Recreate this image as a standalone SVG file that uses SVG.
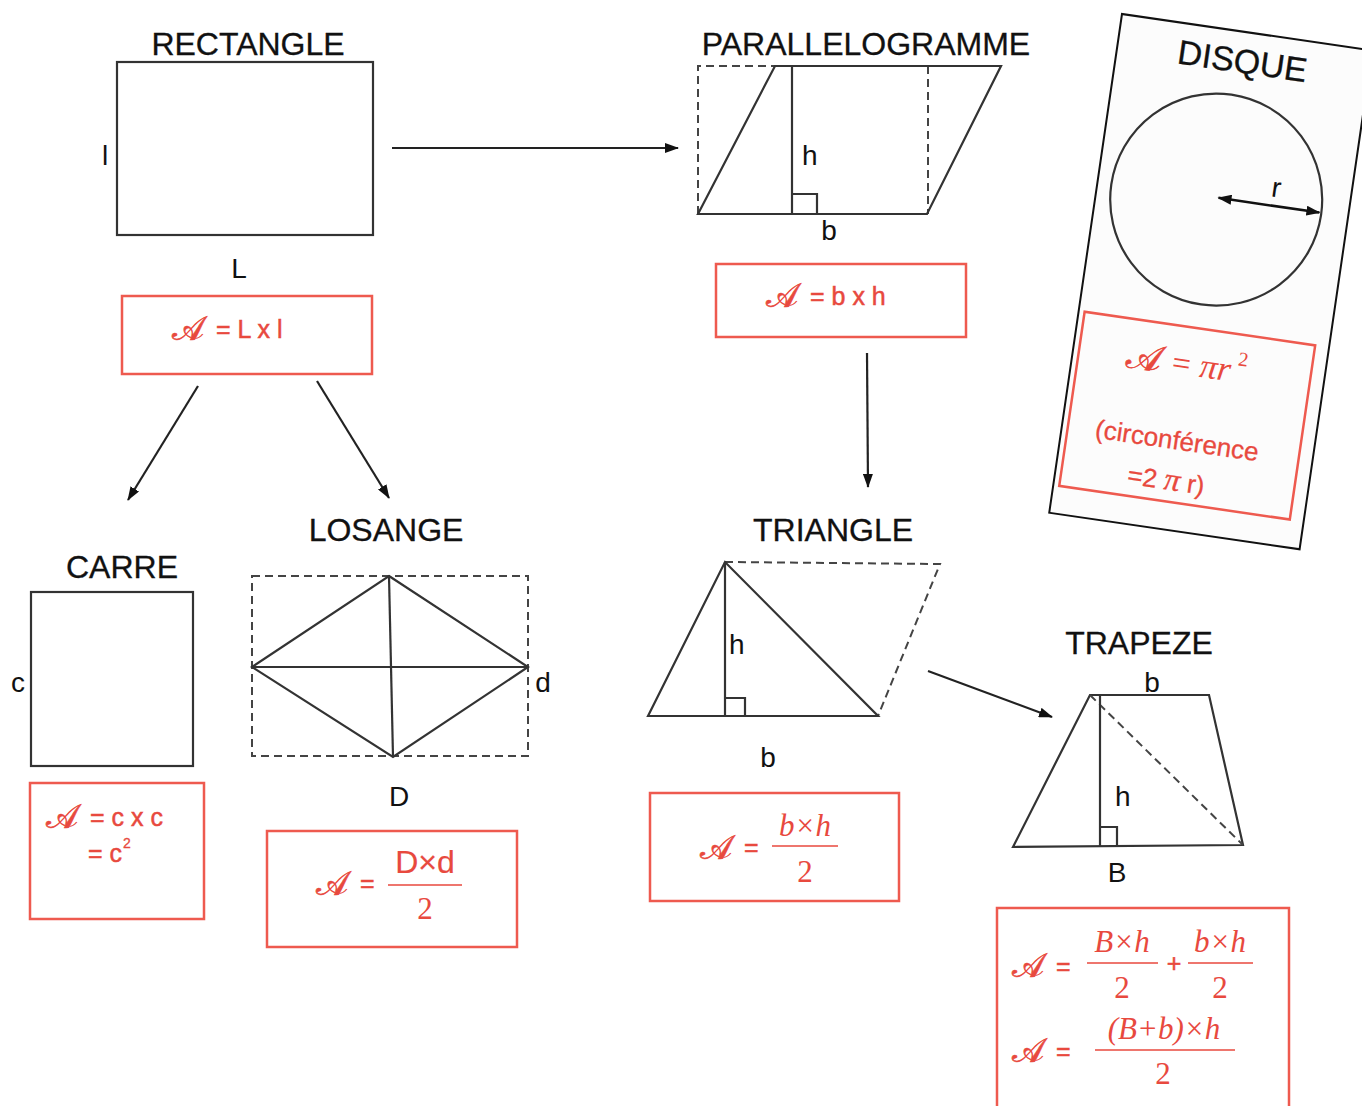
<svg xmlns="http://www.w3.org/2000/svg" width="1362" height="1106" viewBox="0 0 1362 1106">
<style>
.s{font-family:"Liberation Sans",Arial,sans-serif;fill:#111}
.title{font-size:32px;stroke:#111;stroke-width:0.3}
.lbl{font-size:28px}
.f{font-size:25px;font-family:"Liberation Sans",Arial,sans-serif;fill:#e8493e;stroke:#e8493e;stroke-width:0.5}
.m{font-family:"Liberation Serif","Times New Roman",serif;fill:#e8493e;font-size:31px}
.mi{font-style:italic}
.A{font-family:"DejaVu Serif","DejaVu Sans",serif;fill:#e8493e;font-size:34px;stroke:#e8493e;stroke-width:0.6}
.box{fill:none;stroke:#ee5a4f;stroke-width:2.5}
.sh{fill:none;stroke:#333;stroke-width:2.2}
.da{fill:none;stroke:#444;stroke-width:2;stroke-dasharray:8 5}
.fr{stroke:#e8493e;stroke-width:1.6}
.conn line{stroke:#222;stroke-width:2.2;marker-end:url(#ah)}
</style>
<defs>
<marker id="ah" viewBox="0 0 14 10" refX="13" refY="5" markerWidth="14" markerHeight="10" markerUnits="userSpaceOnUse" orient="auto">
<path d="M0,0 L14,5 L0,10 Z" fill="#111"/>
</marker>
<marker id="ahs" viewBox="0 0 14 10" refX="13" refY="5" markerWidth="14" markerHeight="10" markerUnits="userSpaceOnUse" orient="auto-start-reverse">
<path d="M0,0 L14,5 L0,10 Z" fill="#111"/>
</marker>
</defs>
<rect width="1362" height="1106" fill="#fff"/>

<g id="rectangle">
<text class="s title" x="248" y="55" text-anchor="middle">RECTANGLE</text>
<rect class="sh" x="117" y="62" width="256" height="173"/>
<text class="s lbl" x="105" y="165" text-anchor="middle">l</text>
<text class="s lbl" x="239" y="278" text-anchor="middle">L</text>
<rect class="box" x="122" y="296" width="250" height="78"/>
<text class="A" x="172" y="340">𝒜</text>
<text class="f" x="216" y="338">= L x l</text>
</g>

<g id="parallelogramme">
<text class="s title" x="866" y="55" text-anchor="middle">PARALLELOGRAMME</text>
<path class="da" d="M698,214 L698,66 L775,66 M928,66 L928,214"/>
<polygon class="sh" points="698,214 775,66 1001,66 927,214"/>
<line class="sh" x1="792" y1="66" x2="792" y2="214"/>
<path class="sh" d="M792,194 L817,194 L817,214"/>
<text class="s lbl" x="802" y="165">h</text>
<text class="s lbl" x="829" y="240" text-anchor="middle">b</text>
<rect class="box" x="716" y="264" width="250" height="73"/>
<text class="A" x="766" y="307">𝒜</text>
<text class="f" x="810" y="305">= b x h</text>
</g>

<g id="disque" transform="rotate(8.3 1122 14)">
<rect x="1122" y="14" width="253" height="504" fill="#fcfcfc" stroke="#111" stroke-width="2"/>
<text class="s" x="1248" y="55" text-anchor="middle" style="font-size:34px" stroke="#111" stroke-width="0.3">DISQUE</text>
<circle class="sh" cx="1242" cy="184" r="106"/>
<line x1="1244" y1="182" x2="1346" y2="182" stroke="#111" stroke-width="2.5" marker-start="url(#ahs)" marker-end="url(#ah)"/>
<text class="s lbl" x="1300" y="173" text-anchor="middle">r</text>
<rect class="box" x="1128" y="314" width="233" height="176"/>
<text class="A" x="1176" y="363" style="font-size:37px">𝒜</text>
<text class="m" x="1222" y="362" style="font-size:33px">=</text>
<text class="m mi" x="1250" y="362" style="font-size:35px">πr</text>
<text class="m" x="1287" y="345" style="font-size:20px">2</text>
<text class="f" x="1238" y="437" text-anchor="middle" style="font-size:26px;stroke-width:0.3">(circonférence</text>
<text class="f" x="1233" y="478" text-anchor="middle" style="font-size:26px;stroke-width:0.3">=2 <tspan class="mi" style="font-family:'Liberation Serif',serif;font-size:32px">π</tspan> r)</text>
</g>

<g id="carre">
<text class="s title" x="122" y="578" text-anchor="middle">CARRE</text>
<rect class="sh" x="31" y="592" width="162" height="174"/>
<text class="s lbl" x="18" y="692" text-anchor="middle">c</text>
<rect class="box" x="30" y="783" width="174" height="136"/>
<text class="A" x="46" y="828">𝒜</text>
<text class="f" x="90" y="826">= c x c</text>
<text class="f" x="88" y="862">= c</text>
<text class="f" x="123" y="848" style="font-size:14px;stroke-width:0.3">2</text>
</g>

<g id="losange">
<text class="s title" x="386" y="541" text-anchor="middle">LOSANGE</text>
<rect class="da" x="252" y="576" width="276" height="180"/>
<polygon class="sh" points="389,576 528,667 393,757 252,667"/>
<line class="sh" x1="252" y1="667" x2="528" y2="667"/>
<line class="sh" x1="389" y1="576" x2="393" y2="757"/>
<text class="s lbl" x="543" y="692" text-anchor="middle">d</text>
<text class="s lbl" x="399" y="806" text-anchor="middle">D</text>
<rect class="box" x="267" y="831" width="250" height="116"/>
<text class="A" x="316" y="895">𝒜</text>
<text class="f" x="360" y="892">=</text>
<text class="f" x="425" y="873" text-anchor="middle" style="font-size:32px;stroke-width:0.2">D×d</text>
<line class="fr" x1="388" y1="885" x2="462" y2="885"/>
<text class="m" x="425" y="919" text-anchor="middle">2</text>
</g>

<g id="triangle">
<text class="s title" x="833" y="541" text-anchor="middle">TRIANGLE</text>
<path class="da" d="M725,562 L940,564 L878,716"/>
<polygon class="sh" points="648,716 725,562 878,716"/>
<line class="sh" x1="725" y1="562" x2="725" y2="716"/>
<path class="sh" d="M725,698 L745,698 L745,716"/>
<text class="s lbl" x="729" y="654">h</text>
<text class="s lbl" x="768" y="767" text-anchor="middle">b</text>
<rect class="box" x="650" y="793" width="249" height="108"/>
<text class="A" x="700" y="859">𝒜</text>
<text class="f" x="744" y="856">=</text>
<text class="m mi" x="805" y="836" text-anchor="middle">b×h</text>
<line class="fr" x1="772" y1="846" x2="838" y2="846"/>
<text class="m" x="805" y="882" text-anchor="middle">2</text>
</g>

<g id="trapeze">
<text class="s title" x="1139" y="654" text-anchor="middle">TRAPEZE</text>
<polygon class="sh" points="1013,847 1090,695 1209,695 1243,845"/>
<line class="da" x1="1090" y1="695" x2="1243" y2="845"/>
<line class="sh" x1="1100" y1="695" x2="1100" y2="847"/>
<path class="sh" d="M1100,827 L1117,827 L1117,847"/>
<text class="s lbl" x="1152" y="692" text-anchor="middle">b</text>
<text class="s lbl" x="1115" y="806">h</text>
<text class="s lbl" x="1117" y="882" text-anchor="middle">B</text>
<rect class="box" x="997" y="908" width="292" height="210"/>
<text class="A" x="1012" y="977">𝒜</text>
<text class="f" x="1056" y="975">=</text>
<text class="m mi" x="1122" y="952" text-anchor="middle">B×h</text>
<line class="fr" x1="1087" y1="963" x2="1158" y2="963"/>
<text class="m" x="1122" y="998" text-anchor="middle">2</text>
<text class="f" x="1174" y="972" text-anchor="middle">+</text>
<text class="m mi" x="1220" y="952" text-anchor="middle">b×h</text>
<line class="fr" x1="1188" y1="963" x2="1253" y2="963"/>
<text class="m" x="1220" y="998" text-anchor="middle">2</text>
<text class="A" x="1012" y="1062">𝒜</text>
<text class="f" x="1056" y="1060">=</text>
<text class="m mi" x="1164" y="1039" text-anchor="middle">(B+b)×h</text>
<line class="fr" x1="1095" y1="1050" x2="1235" y2="1050"/>
<text class="m" x="1163" y="1084" text-anchor="middle">2</text>
</g>

<g id="connectors" class="conn">
<line x1="392" y1="148" x2="678" y2="148"/>
<line x1="867" y1="353" x2="868" y2="487"/>
<line x1="198" y1="386" x2="128" y2="500"/>
<line x1="317" y1="381" x2="389" y2="498"/>
<line x1="928" y1="671" x2="1052" y2="717"/>
</g>
</svg>
